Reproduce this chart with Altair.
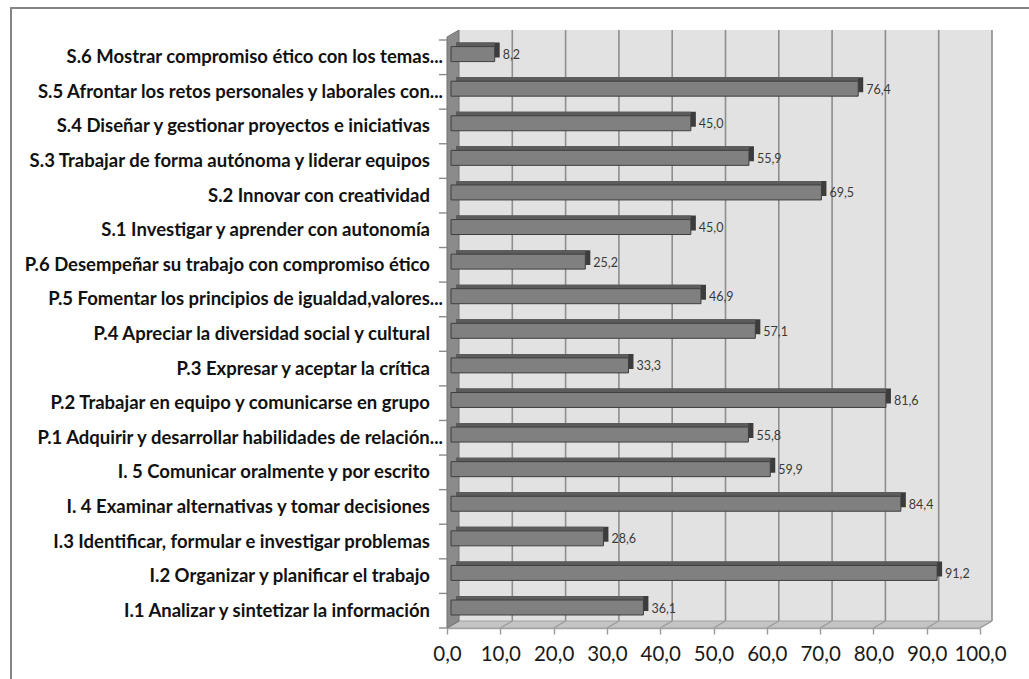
import altair as alt
import pandas as pd

# Competencias (de abajo hacia arriba) y porcentaje de cada una
competencias = [
    "I.1 Analizar y sintetizar la información",
    "I.2 Organizar y planificar el trabajo",
    "I.3 Identificar, formular e investigar problemas",
    "I. 4 Examinar alternativas y tomar decisiones",
    "I. 5 Comunicar oralmente y por escrito",
    "P.1 Adquirir y desarrollar habilidades de relación...",
    "P.2 Trabajar en equipo y comunicarse en grupo",
    "P.3 Expresar y aceptar la crítica",
    "P.4 Apreciar la diversidad social y cultural",
    "P.5 Fomentar los principios de igualdad,valores...",
    "P.6 Desempeñar su trabajo con compromiso ético",
    "S.1 Investigar y aprender con autonomía",
    "S.2 Innovar con creatividad",
    "S.3 Trabajar de forma autónoma y liderar equipos",
    "S.4 Diseñar y gestionar proyectos e iniciativas",
    "S.5 Afrontar los retos personales y laborales con...",
    "S.6 Mostrar compromiso ético con los temas...",
]
porcentajes = [36.1, 91.2, 28.6, 84.4, 59.9, 55.8, 81.6, 33.3, 57.1, 46.9,
               25.2, 45.0, 69.5, 55.9, 45.0, 76.4, 8.2]
ticks_x = [0, 10, 20, 30, 40, 50, 60, 70, 80, 90, 100]

# Plot geometry (front plane of the 3-D box)
W, H = 533, 588
N = len(competencias)
XMAX = 100
PX_X = W / XMAX          # pixels per percentage point
PX_Y = H / N             # pixels per category row
DEPTH_X, DEPTH_Y = 12, 7  # depth of the box, pixels
DXU, DYU = DEPTH_X / PX_X, DEPTH_Y / PX_Y

xs = alt.Scale(domain=[0, XMAX], nice=False, zero=False)
ys = alt.Scale(domain=[0, N], nice=False, zero=False)

df = pd.DataFrame({"nombre": competencias, "valor": porcentajes})
df["idx"] = range(N)
df["cero"] = 0.0
df["yc"] = df["idx"] + 0.5
df["y0"] = df["idx"] + 0.376
df["y1"] = df["idx"] + 0.809
df["ym"] = (df["y0"] + df["y1"]) / 2
df["etiqueta"] = df["valor"].map(lambda v: f"{v:.1f}".replace(".", ","))
df["recortada"] = df["nombre"].str.endswith("...")

FONT = "Lato"

X_AXIS = alt.Axis(
    values=ticks_x, labelExpr="replace(format(datum.value, '.1f'), '.', ',')",
    grid=False, domain=True, domainColor="#a3a3a3", domainWidth=1.5,
    tickColor="#9a9a9a", tickSize=6, tickWidth=1.4,
    labelFont=FONT, labelFontSize=20.5, labelColor="#1a1a1a", labelPadding=10,
    labelFlush=False, title=None,
)


def qx(field):
    return alt.X(field, type="quantitative", scale=xs, axis=X_AXIS, title=None)


def qy(field):
    return alt.Y(field, type="quantitative", scale=ys, axis=None, title=None)


# --- 3-D box --------------------------------------------------------------
wall_df = pd.DataFrame({"a": [0.0], "b": [float(XMAX)], "c": [0.0], "d": [float(N)]})
wall = alt.Chart(wall_df).mark_rect(
    color="#e2e2e2", xOffset=DEPTH_X, x2Offset=DEPTH_X, yOffset=-DEPTH_Y, y2Offset=-10
).encode(x=qx("a"), x2="b:Q", y=qy("c"), y2="d:Q")

frame = alt.Chart(pd.DataFrame({"k": [0]})).mark_rect(
    fillOpacity=0, stroke="#858585", strokeWidth=2
).encode(x=alt.value(-436), x2=alt.value(700), y=alt.value(-32), y2=alt.value(700))

grid_df = pd.DataFrame({"g": ticks_x[1:], "lo": 0.0, "hi": float(N)})
grid = alt.Chart(grid_df).mark_rule(
    color="#8e8e8e", strokeWidth=1.6, xOffset=DEPTH_X, yOffset=-DEPTH_Y, y2Offset=-10
).encode(x=qx("g"), y=qy("lo"), y2="hi:Q")

floor_df = pd.DataFrame({
    "fx": [0.0, DXU, XMAX, XMAX + DXU],
    "ftop": [0.0, DYU, DYU, DYU],
    "fbot": [0.0, 0.0, 0.0, DYU],
})
floor = alt.Chart(floor_df).mark_area(
    orient="vertical", color="#c4c4c4", stroke="#a3a3a3", strokeWidth=1
).encode(x=qx("fx"), y=qy("ftop"), y2="fbot:Q")

diag_df = pd.DataFrame({"d0": ticks_x, "d1": [t + DXU for t in ticks_x], "e0": 0.0, "e1": DYU})
diag = alt.Chart(diag_df).mark_rule(color="#9a9a9a", strokeWidth=1.2).encode(
    x=qx("d0"), x2="d1:Q", y=qy("e0"), y2="e1:Q"
)

lw_df = pd.DataFrame({
    "lx": [0.0, DXU],
    "ltop": [N + 3 / PX_Y, N + 10 / PX_Y],
    "lbot": [0.0, DYU],
})
left_wall = alt.Chart(lw_df).mark_area(
    orient="vertical", color="#8b8b8b", stroke="#737373", strokeWidth=1
).encode(x=qx("lx"), y=qy("ltop"), y2="lbot:Q")

cat_ticks = alt.Chart(pd.DataFrame({"t": list(range(N + 1))})).mark_rule(
    color="#8a8a8a", strokeWidth=1.4
).encode(y=qy("t"), x=alt.value(-8), x2=alt.value(0))

# --- category labels (shortened ones sit closer to the wall) ---------------
label_style = dict(align="right", baseline="middle", font=FONT, fontSize=18.5,
                   fontWeight="bold", color="#111111", dy=0)
base = alt.Chart(df)
labels_short = base.transform_filter("datum.recortada").mark_text(**label_style).encode(
    x=alt.value(-4), y=qy("yc"), text="nombre:N"
)
labels_full = base.transform_filter("!datum.recortada").mark_text(**label_style).encode(
    x=alt.value(-17), y=qy("yc"), text="nombre:N"
)

# --- bars -----------------------------------------------------------------
bar_cap = base.mark_rect(
    color="#3c3c3c", xOffset=4 + 5, x2Offset=4 + 5, yOffset=-4, y2Offset=-4
).encode(x=qx("cero"), x2="valor:Q", y=qy("y0"), y2="y1:Q")
bar_top = base.mark_rect(
    color="#5c5c5c", xOffset=4 + 5, x2Offset=4, yOffset=-4, y2Offset=-4
).encode(x=qx("cero"), x2="valor:Q", y=qy("y0"), y2="y1:Q")
bar_front = base.mark_rect(
    color="#808080", stroke="#3f3f3f", strokeWidth=1, xOffset=4, x2Offset=4
).encode(x=qx("cero"), x2="valor:Q", y=qy("y0"), y2="y1:Q")
values_text = base.mark_text(
    align="left", baseline="middle", dx=12, dy=1, font=FONT, fontSize=12.5, color="#3a3a3a"
).encode(x=qx("valor"), y=qy("ym"), text="etiqueta:N")

chart = alt.layer(
    wall, frame, grid, floor, diag, left_wall, cat_ticks,
    labels_short, labels_full,
    bar_cap, bar_top, bar_front, values_text,
).properties(
    width=W, height=H,
    autosize=alt.AutoSizeParams(type="none"),
    padding={"left": 447, "top": 40, "right": 1029 - 447 - W, "bottom": 679 - 40 - H},
    background="white",
).configure_view(stroke=None)

chart.save("out.html", embed_options={"renderer": "svg", "actions": False})
